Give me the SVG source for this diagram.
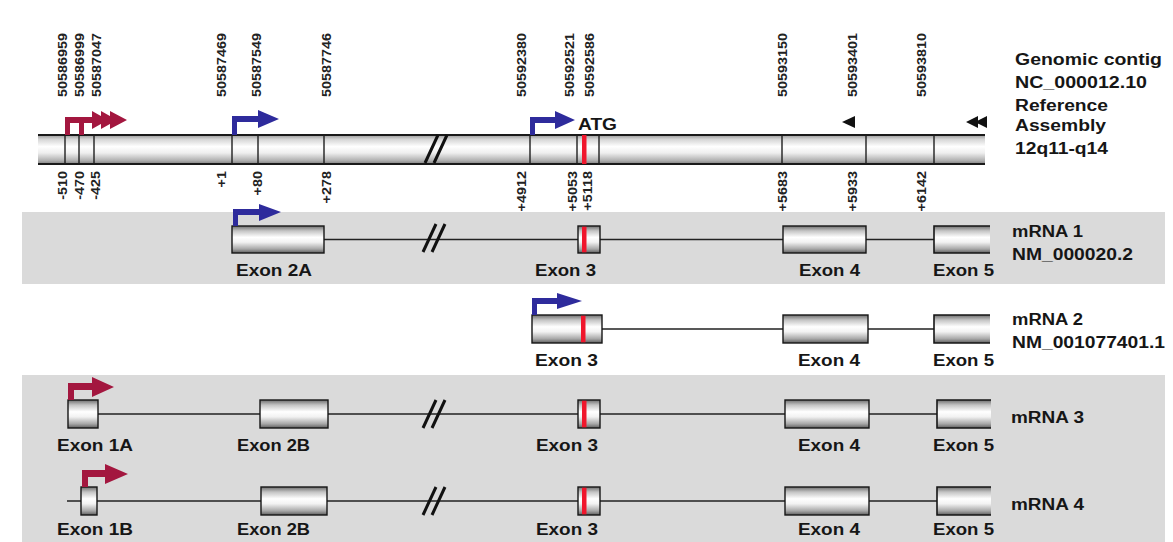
<svg xmlns="http://www.w3.org/2000/svg" width="1173" height="542" viewBox="0 0 1173 542">
<style>
  .band{fill:#dadada}
  .exon{fill:url(#cyl);stroke:#161616;stroke-width:1.4}
  .open{fill:none;stroke:#161616;stroke-width:1.6}
  .intron{stroke:#222;stroke-width:1.4;fill:none}
  .brk{stroke:#111;stroke-width:3;fill:none}
  .div{stroke:#1e1e1e;stroke-width:1.4}
  .cds{fill:#f0162c}
  .blue{fill:#2e2b9c}
  .red{fill:#a3173f}
  .lbl{font-family:"Liberation Sans",Arial,sans-serif;font-weight:bold;font-size:16.5px;fill:#161616}
  .rl{font-family:"Liberation Sans",Arial,sans-serif;font-weight:bold;font-size:16px;fill:#161616}
  .num{font-family:"Liberation Sans",Arial,sans-serif;font-weight:bold;font-size:12px;fill:#222}
</style>
<defs>
  <linearGradient id="cyl" x1="0" y1="0" x2="0" y2="1">
    <stop offset="0" stop-color="#6e6e6e"/>
    <stop offset="0.18" stop-color="#c4c4c4"/>
    <stop offset="0.42" stop-color="#ffffff"/>
    <stop offset="0.6" stop-color="#f2f2f2"/>
    <stop offset="0.85" stop-color="#a8a8a8"/>
    <stop offset="1" stop-color="#5e5e5e"/>
  </linearGradient>
  <linearGradient id="bar" x1="0" y1="0" x2="0" y2="1">
    <stop offset="0" stop-color="#9a9a9a"/>
    <stop offset="0.15" stop-color="#d6d6d6"/>
    <stop offset="0.4" stop-color="#ffffff"/>
    <stop offset="0.62" stop-color="#eeeeee"/>
    <stop offset="0.88" stop-color="#b0b0b0"/>
    <stop offset="1" stop-color="#808080"/>
  </linearGradient>
</defs>

<rect width="1173" height="542" fill="#ffffff"/>
<rect id="band1" class="band" x="22" y="212" width="1143" height="72"/>
<rect id="band2" class="band" x="22" y="375" width="1143" height="167"/>

<g id="genomic">
  <rect x="38" y="135" width="947" height="29" fill="url(#bar)"/>
  <line x1="38" y1="135" x2="985" y2="135" stroke="#1a1a1a" stroke-width="2"/>
  <line x1="38" y1="164" x2="985" y2="164" stroke="#1a1a1a" stroke-width="2"/>
  <rect class="cds" x="582" y="135" width="4.5" height="29"/>
  <g class="div">
    <line x1="65" y1="135" x2="65" y2="164"/>
    <line x1="79" y1="135" x2="79" y2="164"/>
    <line x1="94" y1="135" x2="94" y2="164"/>
    <line x1="232" y1="135" x2="232" y2="164"/>
    <line x1="258" y1="135" x2="258" y2="164"/>
    <line x1="324" y1="135" x2="324" y2="164"/>
    <line x1="530" y1="135" x2="530" y2="164"/>
    <line x1="577" y1="135" x2="577" y2="164"/>
    <line x1="599" y1="135" x2="599" y2="164"/>
    <line x1="782" y1="135" x2="782" y2="164"/>
    <line x1="866" y1="135" x2="866" y2="164"/>
    <line x1="934" y1="135" x2="934" y2="164"/>
  </g>
  <path class="brk" d="M425,163 L438,135 M434,163 L447,135"/>
  <path class="red" d="M65,135 L65,117 L92,117 L92,111 L108,120 L92,129 L92,123 L70,123 L70,135 Z"/>
  <path class="red" d="M79,135 L79,117 L101,117 L101,111 L117,120 L101,129 L101,123 L84,123 L84,135 Z"/>
  <path class="red" d="M100,117 L110,117 L110,111 L127,120 L110,129 L110,123 L100,123 Z"/>
  <path class="blue" d="M232,135 L232,116 L258,116 L258,110 L279,119 L258,128 L258,122 L237,122 L237,135 Z"/>
  <path class="blue" d="M530,135 L530,117 L555,117 L555,111 L575,120 L555,129 L555,123 L535,123 L535,135 Z"/>
  <text class="lbl" x="578" y="130" font-size="17" textLength="39" lengthAdjust="spacingAndGlyphs">ATG</text>
  <path fill="#111" d="M842,122 L855,116 L855,128 Z"/>
  <path fill="#111" d="M966,122 L978,116 L978,128 Z M975,122 L987,116 L987,128 Z"/>
</g>

<g id="coords-top" class="num">
  <text transform="translate(67,97) rotate(-90) scale(1.2,1)">50586959</text>
  <text transform="translate(84,97) rotate(-90) scale(1.2,1)">50586999</text>
  <text transform="translate(101,97) rotate(-90) scale(1.2,1)">50587047</text>
  <text transform="translate(226,97) rotate(-90) scale(1.2,1)">50587469</text>
  <text transform="translate(261,97) rotate(-90) scale(1.2,1)">50587549</text>
  <text transform="translate(331,97) rotate(-90) scale(1.2,1)">50587746</text>
  <text transform="translate(526,97) rotate(-90) scale(1.2,1)">50592380</text>
  <text transform="translate(574,97) rotate(-90) scale(1.2,1)">50592521</text>
  <text transform="translate(594,97) rotate(-90) scale(1.2,1)">50592586</text>
  <text transform="translate(787,97) rotate(-90) scale(1.2,1)">50593150</text>
  <text transform="translate(857,97) rotate(-90) scale(1.2,1)">50593401</text>
  <text transform="translate(926,97) rotate(-90) scale(1.2,1)">50593810</text>
</g>

<g id="coords-bottom" class="num" text-anchor="end">
  <text transform="translate(67,171) rotate(-90) scale(1.2,1)">-510</text>
  <text transform="translate(84,171) rotate(-90) scale(1.2,1)">-470</text>
  <text transform="translate(100,171) rotate(-90) scale(1.2,1)">-425</text>
  <text transform="translate(226,171) rotate(-90) scale(1.2,1)">+1</text>
  <text transform="translate(262,171) rotate(-90) scale(1.2,1)">+80</text>
  <text transform="translate(331,171) rotate(-90) scale(1.2,1)">+278</text>
  <text transform="translate(526,171) rotate(-90) scale(1.2,1)">+4912</text>
  <text transform="translate(577,171) rotate(-90) scale(1.2,1)">+5053</text>
  <text transform="translate(592,171) rotate(-90) scale(1.2,1)">+5118</text>
  <text transform="translate(787,171) rotate(-90) scale(1.2,1)">+5683</text>
  <text transform="translate(857,171) rotate(-90) scale(1.2,1)">+5933</text>
  <text transform="translate(926,171) rotate(-90) scale(1.2,1)">+6142</text>
</g>

<g id="genomic-label" class="rl">
  <text x="1015" y="65" textLength="147" lengthAdjust="spacingAndGlyphs">Genomic contig</text>
  <text x="1015" y="88" textLength="132" lengthAdjust="spacingAndGlyphs">NC_000012.10</text>
  <text x="1015" y="111" textLength="93" lengthAdjust="spacingAndGlyphs">Reference</text>
  <text x="1015" y="131" textLength="91" lengthAdjust="spacingAndGlyphs">Assembly</text>
  <text x="1015" y="154" textLength="93" lengthAdjust="spacingAndGlyphs">12q11-q14</text>
</g>

<g id="connectors">
  <path class="intron" d="M324,239.5 H578 M600,239.5 H783 M866,239.5 H934"/>
  <path class="intron" d="M602,329 H783 M868,329 H934"/>
  <path class="intron" d="M98,414 H260 M328,414 H578 M600,414 H785 M869,414 H937"/>
  <path class="intron" d="M67,501 H81 M97,501 H261 M327,501 H578 M600,501 H785 M869,501 H937"/>
  <path class="brk" d="M423,252 L436,224 M432,252 L445,224"/>
  <path class="brk" d="M423,428 L436,400 M432,428 L445,400"/>
  <path class="brk" d="M423,515 L436,487 M432,515 L445,487"/>
</g>

<g id="mrna1">
  <rect class="exon" x="232" y="226" width="92" height="27"/>
  <path class="blue" d="M233,226 L233,209 L259,209 L259,204 L281,212 L259,221 L259,215 L238,215 L238,226 Z"/>
  <rect class="exon" x="578" y="226" width="22" height="27"/>
  <rect class="cds" x="582" y="226.7" width="4.5" height="25.6"/>
  <rect class="exon" x="783" y="226" width="83" height="27"/>
  <rect x="934" y="226" width="56" height="27" fill="url(#cyl)"/>
  <path class="open" d="M990,226 H934 V253 H990"/>
  <text class="lbl" x="236" y="276" textLength="76" lengthAdjust="spacingAndGlyphs">Exon 2A</text>
  <text class="lbl" x="535" y="276" textLength="61" lengthAdjust="spacingAndGlyphs">Exon 3</text>
  <text class="lbl" x="799" y="276" textLength="61" lengthAdjust="spacingAndGlyphs">Exon 4</text>
  <text class="lbl" x="933" y="276" textLength="61" lengthAdjust="spacingAndGlyphs">Exon 5</text>
  <text class="rl" x="1012" y="237" textLength="71" lengthAdjust="spacingAndGlyphs">mRNA 1</text>
  <text class="rl" x="1012" y="260" textLength="121" lengthAdjust="spacingAndGlyphs">NM_000020.2</text>
</g>

<g id="mrna2">
  <rect class="exon" x="532" y="315" width="70" height="28"/>
  <rect class="cds" x="581" y="315.7" width="4.5" height="26.6"/>
  <path class="blue" d="M532,315 L532,298 L557,298 L557,293 L582,301 L557,309 L557,304 L537,304 L537,315 Z"/>
  <rect class="exon" x="783" y="315" width="85" height="28"/>
  <rect x="934" y="315" width="56" height="28" fill="url(#cyl)"/>
  <path class="open" d="M990,315 H934 V343 H990"/>
  <text class="lbl" x="535" y="366" textLength="63" lengthAdjust="spacingAndGlyphs">Exon 3</text>
  <text class="lbl" x="798" y="366" textLength="62" lengthAdjust="spacingAndGlyphs">Exon 4</text>
  <text class="lbl" x="933" y="366" textLength="61" lengthAdjust="spacingAndGlyphs">Exon 5</text>
  <text class="rl" x="1012" y="325" textLength="71" lengthAdjust="spacingAndGlyphs">mRNA 2</text>
  <text class="rl" x="1012" y="348" textLength="153" lengthAdjust="spacingAndGlyphs">NM_001077401.1</text>
</g>

<g id="mrna3">
  <rect class="exon" x="68" y="400" width="30" height="28"/>
  <path class="red" d="M68,400 L68,383 L92,383 L92,377 L114,387 L92,397 L92,390 L74,390 L74,400 Z"/>
  <rect class="exon" x="260" y="400" width="68" height="28"/>
  <rect class="exon" x="578" y="400" width="22" height="28"/>
  <rect class="cds" x="582" y="400.7" width="4.5" height="26.6"/>
  <rect class="exon" x="785" y="400" width="84" height="28"/>
  <rect x="937" y="400" width="54" height="28" fill="url(#cyl)"/>
  <path class="open" d="M991,400 H937 V428 H991"/>
  <text class="lbl" x="57" y="451" textLength="76" lengthAdjust="spacingAndGlyphs">Exon 1A</text>
  <text class="lbl" x="237" y="451" textLength="73" lengthAdjust="spacingAndGlyphs">Exon 2B</text>
  <text class="lbl" x="536" y="451" textLength="62" lengthAdjust="spacingAndGlyphs">Exon 3</text>
  <text class="lbl" x="798" y="451" textLength="62" lengthAdjust="spacingAndGlyphs">Exon 4</text>
  <text class="lbl" x="933" y="451" textLength="61" lengthAdjust="spacingAndGlyphs">Exon 5</text>
  <text class="rl" x="1011" y="423" textLength="73" lengthAdjust="spacingAndGlyphs">mRNA 3</text>
</g>

<g id="mrna4">
  <rect class="exon" x="81" y="487" width="16" height="28"/>
  <path class="red" d="M82,487 L82,470 L105,470 L105,464 L128,474 L105,484 L105,477 L88,477 L88,487 Z"/>
  <rect class="exon" x="261" y="487" width="66" height="28"/>
  <rect class="exon" x="578" y="487" width="22" height="28"/>
  <rect class="cds" x="582" y="487.7" width="4.5" height="26.6"/>
  <rect class="exon" x="785" y="487" width="84" height="28"/>
  <rect x="937" y="487" width="54" height="28" fill="url(#cyl)"/>
  <path class="open" d="M991,487 H937 V515 H991"/>
  <text class="lbl" x="57" y="535" textLength="76" lengthAdjust="spacingAndGlyphs">Exon 1B</text>
  <text class="lbl" x="237" y="535" textLength="73" lengthAdjust="spacingAndGlyphs">Exon 2B</text>
  <text class="lbl" x="536" y="535" textLength="62" lengthAdjust="spacingAndGlyphs">Exon 3</text>
  <text class="lbl" x="798" y="535" textLength="62" lengthAdjust="spacingAndGlyphs">Exon 4</text>
  <text class="lbl" x="933" y="535" textLength="61" lengthAdjust="spacingAndGlyphs">Exon 5</text>
  <text class="rl" x="1011" y="510" textLength="73" lengthAdjust="spacingAndGlyphs">mRNA 4</text>
</g>
</svg>
